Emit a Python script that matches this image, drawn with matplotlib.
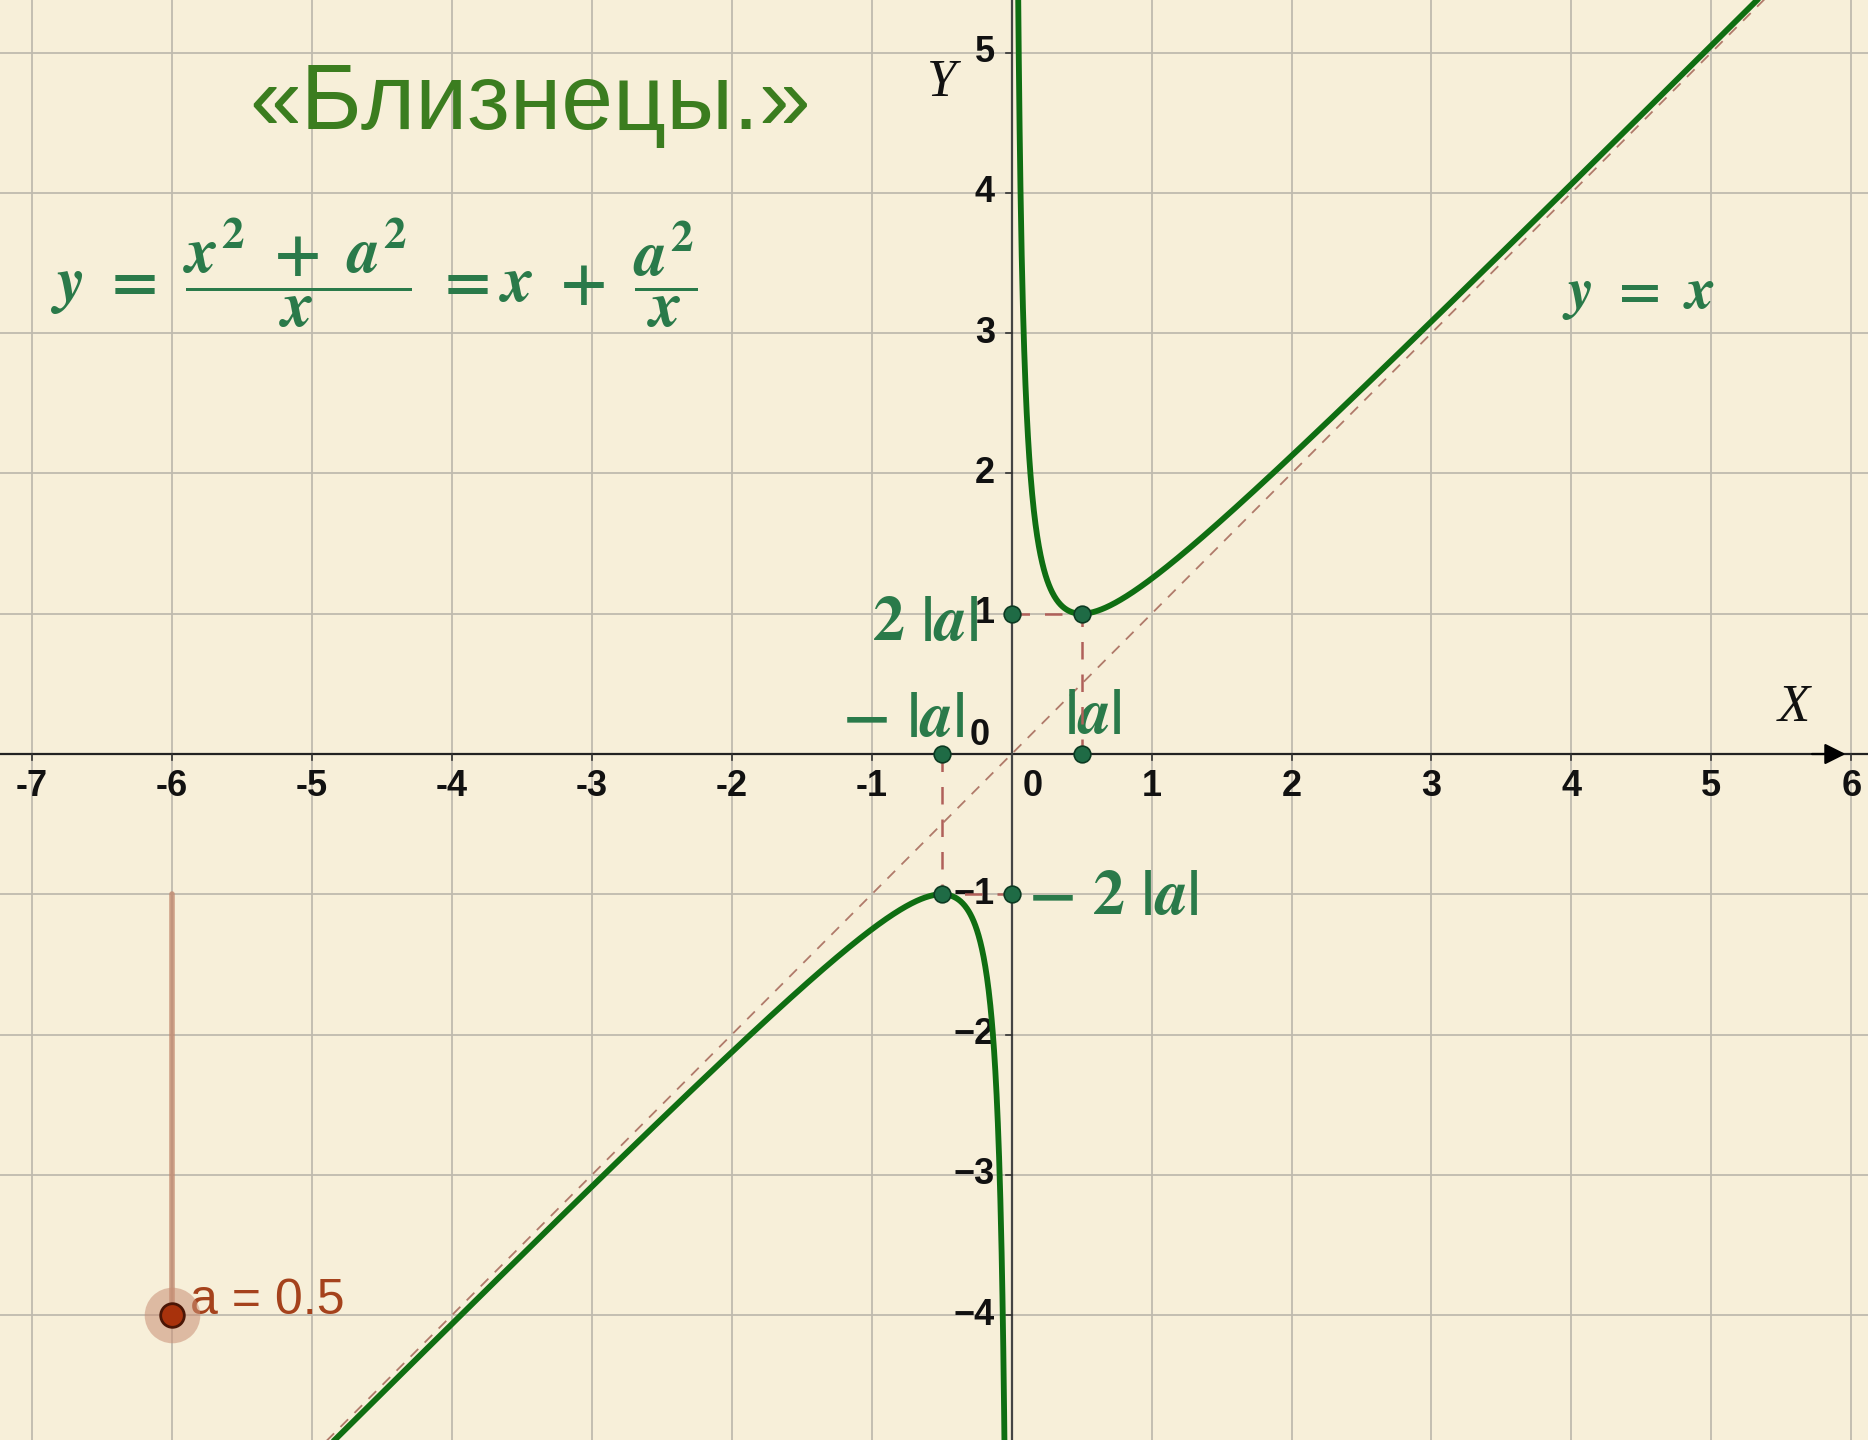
import numpy as np
import matplotlib.pyplot as plt

plt.rcParams['mathtext.fontset'] = 'custom'
plt.rcParams['mathtext.rm'] = 'STIXGeneral:bold'
plt.rcParams['mathtext.it'] = 'STIXGeneral:italic:bold'
plt.rcParams['mathtext.bf'] = 'STIXGeneral:bold'

# parameter of the curve y = x + a^2/x
a = 0.5
x_ticks = [-7, -6, -5, -4, -3, -2, -1, 1, 2, 3, 4, 5, 6]
y_ticks = [-4, -3, -2, -1, 1, 2, 3, 4, 5]
title = "«Близнецы.»"
formula = r'$y\ =\ \dfrac{x^{2}\ +\ a^{2}}{x}\ =x\ +\ \dfrac{a^{2}}{x}$'

bg = '#f7efd9'
grid_col = '#bfbaae'
curve_col = '#0f6e12'
text_green = '#2a7a4a'
point_col = '#1f6b45'
helper_col = '#b0605a'

fig = plt.figure(figsize=(18.68, 14.4), dpi=100)
fig.patch.set_facecolor(bg)
ax = fig.add_axes([0, 0, 1, 1])
ax.set_facecolor(bg)
for s in ax.spines.values():
    s.set_visible(False)
ax.set_xticks(range(-8, 8))
ax.set_yticks(range(-5, 6))
ax.set_xlim(-7.23, 6.12)
ax.set_ylim(-4.89, 5.375)
ax.tick_params(length=0, labelbottom=False, labelleft=False)
ax.grid(True, color=grid_col, lw=1.3, zorder=0)

tick_font = dict(fontsize=26, fontweight='bold', family='Liberation Sans', color='#111111')

# axes
ax.axhline(0, color='#222222', lw=1.6, zorder=2)
ax.axvline(0, color='#444444', lw=1.6, zorder=2)
ax.annotate('', xy=(5.98, 0), xytext=(5.7, 0),
            arrowprops=dict(arrowstyle='-|>', color='black', lw=1.6, mutation_scale=32), zorder=3)
for t in x_ticks:
    ax.plot([t, t], [0, -0.04], color='#333333', lw=1.2, zorder=2)
    ax.text(t, -0.23, str(t), ha='center', va='center', **tick_font)
for t in y_ticks:
    ax.plot([-0.04, 0], [t, t], color='#333333', lw=1.2, zorder=2)
    ax.text(-0.12, t, str(t).replace('-', '\u2212'), ha='right', va='center', **tick_font)
ax.text(-0.23, 0.13, '0', ha='center', va='center', **tick_font)
ax.text(0.15, -0.23, '0', ha='center', va='center', **tick_font)
ax.text(5.59, 0.33, 'X', ha='center', va='center', fontsize=38,
        style='italic', family='Liberation Serif', color='#111111')
ax.text(-0.5, 4.78, 'Y', ha='center', va='center', fontsize=38,
        style='italic', family='Liberation Serif', color='#111111')

# asymptote y = x
lim = np.array([-6, 6])
ax.plot(lim, lim, color='#b07a6a', lw=1.3, dashes=(6, 5), zorder=3)

# curve branches
xp = np.linspace(0.03, 6, 2000)
xn = np.linspace(-6, -0.03, 2000)
ax.plot(xp, xp + a**2 / xp, color=curve_col, lw=4.2, zorder=5, solid_capstyle='round')
ax.plot(xn, xn + a**2 / xn, color=curve_col, lw=4.2, zorder=5, solid_capstyle='round')

# helper dashes to the extrema
ax.plot([0, a, a], [2 * a, 2 * a, 0], color=helper_col, lw=1.8, dashes=(7, 6), zorder=4)
ax.plot([-a, -a, 0], [0, -2 * a, -2 * a], color=helper_col, lw=1.8, dashes=(7, 6), zorder=4)

px = [0, a, -a, a, -a, 0]
py = [2 * a, 2 * a, 0, 0, -2 * a, -2 * a]
ax.plot(px, py, 'o', ms=12, color=point_col, mec='#0c3b22', mew=1.2, zorder=6)

# labels
ax.text(-0.24, 0.94, r'$2\ |a|$', ha='right', va='center', fontsize=46, color=text_green)
ax.text(-0.34, 0.26, r'$-\ |a|$', ha='right', va='center', fontsize=46, color=text_green)
ax.text(0.58, 0.28, r'$|a|$', ha='center', va='center', fontsize=46, color=text_green)
ax.text(0.12, -1.01, r'$-\ 2\ |a|$', ha='left', va='center', fontsize=46, color=text_green)
ax.text(4.48, 3.28, r'$y\ =\ x$', ha='center', va='center', fontsize=42, color=text_green)
ax.text(-6.87, 3.43, formula, ha='left', va='center', fontsize=46, color=text_green)
ax.text(-3.44, 4.63, title, ha='center', va='center', fontsize=67,
        family='Liberation Sans', color='#3b7d1f')

# slider for a
ax.plot([-6, -6], [-1, -4], color='#c28a70', lw=4, alpha=0.8, zorder=4, solid_capstyle='round')
ax.plot([-6], [-4], 'o', ms=40, color='#c98f75', alpha=0.55, mec='none', zorder=5)
ax.plot([-6], [-4], 'o', ms=17, color='#a8320c', mec='#4a1606', mew=2, zorder=6)
ax.text(-5.87, -3.9, 'a = %g' % a, ha='left', va='center', fontsize=36,
        family='Liberation Sans', color='#a5421c')

fig.savefig('out.png', dpi=100, facecolor=bg)
